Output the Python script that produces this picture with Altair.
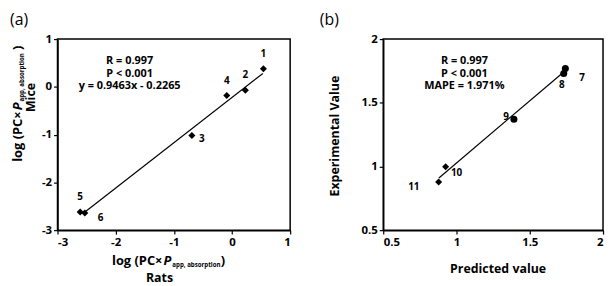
import altair as alt
import pandas as pd

# ---------------- data ----------------
# Panel (a): rats vs mice
a_labels = ["1", "2", "3", "4", "5", "6"]
a_x = [0.54, 0.23, -0.69, -0.09, -2.61, -2.53]
a_y = [0.38, -0.07, -1.02, -0.18, -2.62, -2.64]
a_fit_x = [-2.55, 0.53]
a_fit_y = [-2.64, 0.28]
a_notes = ["R = 0.997", "P < 0.001", "y = 0.9463x - 0.2265"]
a_note_x = -1.76
a_note_y = [0.544, 0.275, 0.026]
a_ticks = [-3, -2, -1, 0, 1]

# Panel (b): predicted vs experimental
b_labels = ["7", "8", "9", "10", "11"]
b_x = [1.743, 1.732, 1.392, 0.926, 0.878]
b_y = [1.770, 1.729, 1.371, 0.997, 0.879]
b_shape = ["circle", "circle", "circle", "diamond", "diamond"]
b_fit_x = [0.88, 1.73]
b_fit_y = [0.91, 1.74]
b_notes = ["R = 0.997", "P < 0.001", "MAPE = 1.971%"]
b_note_x = 1.054
b_note_y = [1.829, 1.728, 1.635]
b_ticks = [0.5, 1, 1.5, 2]

FONT = "Open Sans"
W_A, W_B, H = 235, 222, 193

# label offsets (pixels) – styling only
a_off = {"1": (0, -15), "2": (0, -15), "3": (10, 3), "4": (0, -15), "5": (0, -15), "6": (16, 5)}
b_off = {"7": (17, 10), "8": (-2, 12), "9": (-8, -2), "10": (11, 6), "11": (-25, 5)}

dummy = pd.DataFrame({"d": [0]})


def txt(text, x, y, size=12.5, weight="bold", align="center", baseline="middle", angle=0,
        style="normal", opacity=1):
    kw = dict(text=text, font=FONT, fontSize=size, fontWeight=weight, align=align,
              baseline=baseline, color="black", fontStyle=style, opacity=opacity)
    if angle:
        kw["angle"] = angle
    return alt.Chart(dummy).mark_text(**kw).encode(x=alt.value(x), y=alt.value(y))


def axis(vals):
    return alt.Axis(values=vals, title=None, grid=False, labelExpr="datum.value + ''")


def panel(pts, fit, notes, off, dom, ticks, shape_field=False):
    xs = alt.Scale(domain=dom, nice=False, zero=False)
    base = alt.Chart(pts)
    enc = dict(x=alt.X("x:Q", scale=xs, axis=axis(ticks)),
               y=alt.Y("y:Q", scale=xs, axis=axis(ticks)))
    if shape_field:
        marks = base.mark_point(filled=True, color="black", size=50, opacity=1).encode(
            shape=alt.Shape("shape:N", scale=None), **enc)
    else:
        marks = base.mark_point(filled=True, color="black", size=50, shape="diamond", opacity=1).encode(**enc)
    line = alt.Chart(fit).mark_line(color="black", strokeWidth=1.2).encode(x="x:Q", y="y:Q")
    note = alt.Chart(notes).mark_text(font=FONT, fontSize=11, fontWeight="bold", color="black").encode(
        x="x:Q", y="y:Q", text="t:N")
    labs = []
    for lab, (dx, dy) in off.items():
        labs.append(base.transform_filter(alt.datum.label == lab).mark_text(
            font=FONT, fontSize=10, fontWeight="bold", color="black", dx=dx, dy=dy
        ).encode(x="x:Q", y="y:Q", text="label:N"))
    return [line, marks, note] + labs


pa = pd.DataFrame({"x": a_x, "y": a_y, "label": a_labels})
fa = pd.DataFrame({"x": a_fit_x, "y": a_fit_y})
na = pd.DataFrame({"x": [a_note_x] * 3, "y": a_note_y, "t": a_notes})
pb = pd.DataFrame({"x": b_x, "y": b_y, "label": b_labels, "shape": b_shape})
fb = pd.DataFrame({"x": b_fit_x, "y": b_fit_y})
nb = pd.DataFrame({"x": [b_note_x] * 3, "y": b_note_y, "t": b_notes})

layers_a = panel(pa, fa, na, a_off, [-3, 1], a_ticks)
layers_a += [
    # invisible layout anchor for the top-left corner of the figure
    txt("(a)", -49, -29, size=16, weight="normal", align="left", baseline="top", opacity=0),
    txt("(a)", -48, -19, size=16, weight="normal", align="left"),
    # x title
    txt("log (PC×", 106, 224, size=13, align="right"),
    txt("P", 107, 224, size=13, align="left", style="italic"),
    txt("app, absorption", 116, 228, size=6.2, align="left"),
    txt(")", 165, 224, size=13, align="left"),
    txt("Rats", 103, 241),
    # y title (rotated)
    txt("log (PC×", -40, 73, size=13, align="right", angle=270),
    txt("P", -40, 72, size=13, align="left", angle=270, style="italic"),
    txt("app, absorption", -36, 63, size=6.2, align="left", angle=270),
    txt(")", -40, 11, size=13, align="left", angle=270),
    txt("Mice", -27, 59, angle=270),
]
chart_a = alt.layer(*layers_a).properties(width=W_A, height=H)

layers_b = panel(pb, fb, nb, b_off, [0.5, 2], b_ticks, shape_field=True)
layers_b += [
    txt("(b)", -64, -19, size=16, weight="normal", align="left"),
    txt("Experimental Value", -49, 98, angle=270),
    txt("Predicted value", 116, 232),
]
chart_b = alt.layer(*layers_b).properties(width=W_B, height=H)

chart = alt.hconcat(chart_a, chart_b, spacing=94, bounds="flush").properties(
    padding=0
).configure_view(stroke="black", strokeWidth=1.5).configure_axis(
    labelFont=FONT, labelFontSize=11.5, labelFontWeight="bold", labelColor="black",
    domainColor="black", domainWidth=1.5, tickColor="black", tickSize=4, tickWidth=1.2,
    labelPadding=2,
)

chart.save("out.html", embed_options={"renderer": "svg", "actions": False})
